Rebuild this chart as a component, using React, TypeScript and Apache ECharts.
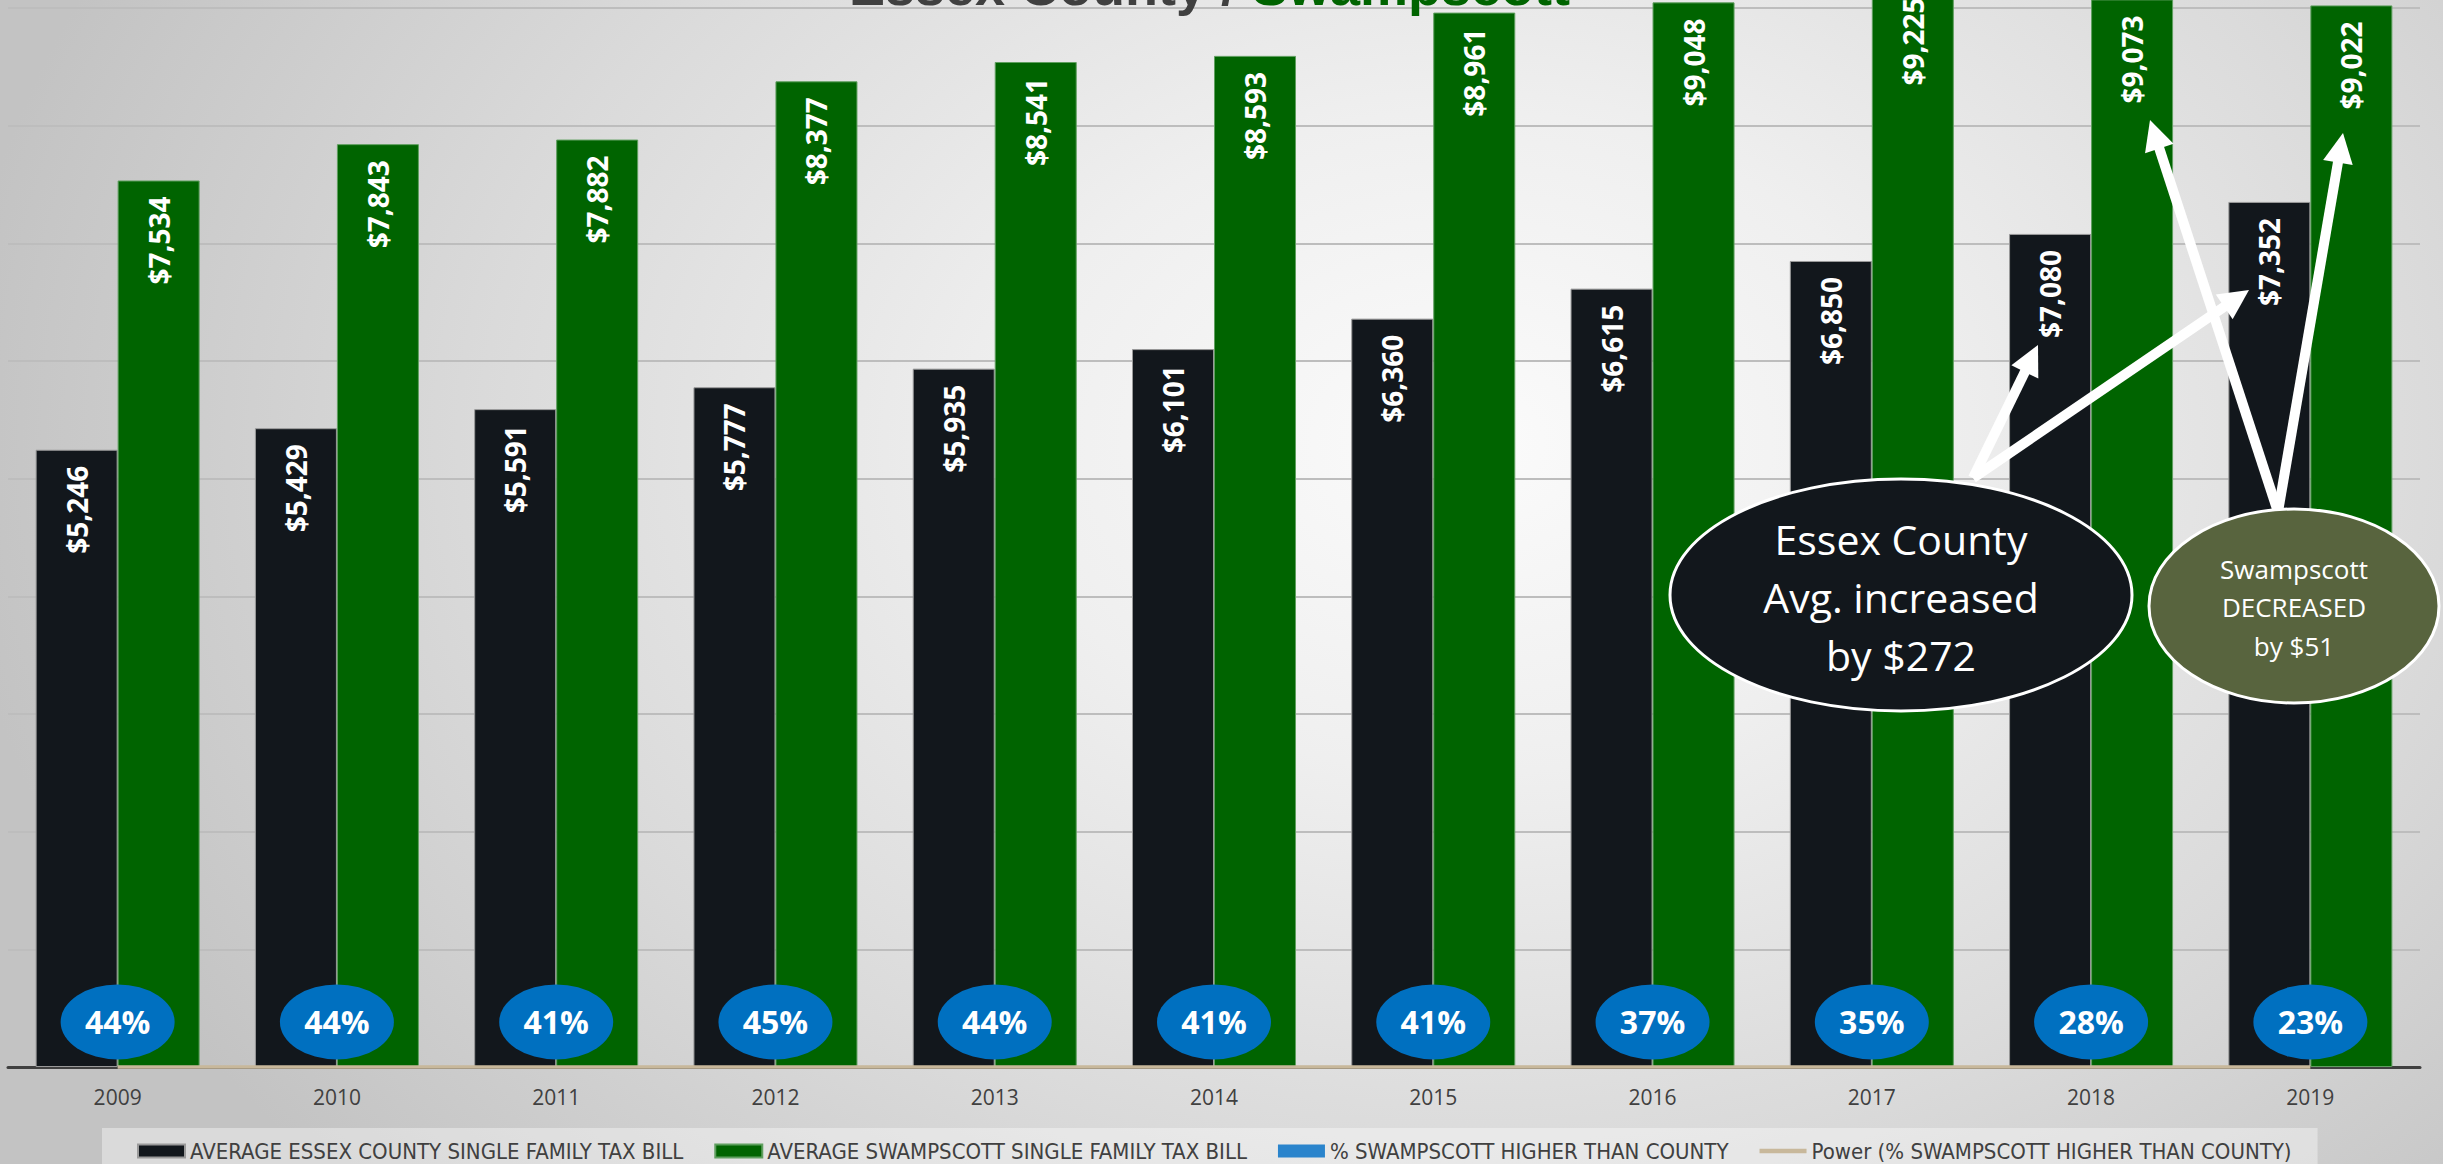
import React, { useEffect, useRef } from "react";
import * as echarts from "echarts";

const years = ["2009", "2010", "2011", "2012", "2013", "2014", "2015", "2016", "2017", "2018", "2019"];
const countyBills = [5246, 5429, 5591, 5777, 5935, 6101, 6360, 6615, 6850, 7080, 7352];
const swampBills = [7534, 7843, 7882, 8377, 8541, 8593, 8961, 9048, 9225, 9073, 9022];
const pctHigher = [0.44, 0.44, 0.41, 0.45, 0.44, 0.41, 0.41, 0.37, 0.35, 0.28, 0.23];
const powerTrend = [0.47, 0.45, 0.43, 0.41, 0.4, 0.38, 0.36, 0.35, 0.33, 0.32, 0.3];

const S1 = "AVERAGE ESSEX COUNTY SINGLE FAMILY TAX BILL";
const S2 = "AVERAGE SWAMPSCOTT SINGLE FAMILY TAX BILL";
const S3 = "% SWAMPSCOTT HIGHER THAN COUNTY";
const S4 = "Power (% SWAMPSCOTT HIGHER THAN COUNTY)";

const BLACK = "#12171C";
const GREEN = "#006400";
const BLUE = "#0070C0";
const OLIVE = "#58643E";
const TAN = "#C8B89B";
const FONT = "'Open Sans', sans-serif";
const NARROW = "'Liberation Sans Narrow', 'DejaVu Sans Condensed', sans-serif";

function arrow(x1: number, y1: number, x2: number, y2: number) {
  const dx = x2 - x1;
  const dy = y2 - y1;
  const len = Math.hypot(dx, dy);
  const ux = dx / len;
  const uy = dy / len;
  const headLen = 30;
  const headW = 15;
  const bx = x2 - ux * headLen;
  const by = y2 - uy * headLen;
  return [
    {
      type: "line",
      z: 50,
      shape: { x1, y1, x2: bx + ux * 3, y2: by + uy * 3 },
      style: { stroke: "#ffffff", lineWidth: 10 },
    },
    {
      type: "polygon",
      z: 50,
      shape: {
        points: [
          [x2, y2],
          [bx - uy * headW, by + ux * headW],
          [bx + uy * headW, by - ux * headW],
        ],
      },
      style: { fill: "#ffffff" },
    },
  ];
}

const moneyLabel = {
  show: true,
  position: "insideTop",
  rotate: 90,
  align: "right",
  verticalAlign: "middle",
  distance: 16,
  color: "#ffffff",
  fontFamily: FONT,
  fontWeight: "bold",
  fontSize: 28,
  formatter: (p: any) => "$" + Number(p.value).toLocaleString("en-US"),
};

export default function App() {
  const ref = useRef<HTMLDivElement>(null);

  useEffect(() => {
    if (!ref.current) return;
    const chart = echarts.init(ref.current, null, { renderer: "svg" });
    const option: any = {
      animation: false,
      backgroundColor: "transparent",
      grid: { left: 8, right: 23, top: 8, bottom: 97, containLabel: false },
      xAxis: {
        type: "category",
        data: years,
        axisLine: { show: true, lineStyle: { color: "#404040", width: 3 } },
        axisTick: { show: false },
        axisLabel: { color: "#404040", fontFamily: FONT, fontSize: 21, margin: 19 },
      },
      yAxis: {
        type: "value",
        min: 0,
        max: 9000,
        interval: 1000,
        axisLabel: { show: false },
        axisLine: { show: false },
        axisTick: { show: false },
        splitLine: { show: true, lineStyle: { color: "#BDBDBD", width: 2 } },
      },
      legend: {
        left: 102,
        top: 1128,
        padding: [12, 26, 14, 35],
        backgroundColor: "rgba(255,255,255,0.38)",
        itemWidth: 47,
        itemHeight: 13,
        itemGap: 31,
        textStyle: { color: "#404040", fontFamily: NARROW, fontSize: 22 },
        data: [
          { name: S1, icon: "rect" },
          { name: S2, icon: "rect" },
          { name: S3, icon: "rect", itemStyle: { color: "#2A84CC", borderWidth: 0 } },
          { name: S4, icon: "path://M0,0L10,0L10,1L0,1Z", itemStyle: { color: TAN } },
        ],
      },
      series: [
        {
          name: S1,
          type: "bar",
          data: countyBills,
          barWidth: 82,
          barGap: "0%",
          clip: false,
          itemStyle: { color: BLACK, borderColor: "#9a9a9a", borderWidth: 1 },
          label: moneyLabel,
        },
        {
          name: S2,
          type: "bar",
          data: swampBills,
          barWidth: 82,
          barGap: "0%",
          clip: false,
          itemStyle: { color: GREEN, borderColor: "#5f9f5f", borderWidth: 1 },
          label: moneyLabel,
        },
        {
          name: S4,
          type: "line",
          data: powerTrend,
          symbol: "none",
          clip: false,
          z: 4,
          lineStyle: { color: TAN, width: 3.5 },
          itemStyle: { color: TAN },
        },
        {
          name: S3,
          type: "scatter",
          data: pctHigher,
          z: 5,
          symbol: "path://M0,1A1,1 0 1,1 2,1A1,1 0 1,1 0,1Z",
          symbolKeepAspect: false,
          symbolSize: [114, 75],
          symbolOffset: [0, -45],
          itemStyle: { color: BLUE, opacity: 1 },
          label: {
            show: true,
            position: "inside",
            color: "#ffffff",
            fontFamily: FONT,
            fontWeight: "bold",
            fontSize: 32,
            formatter: (p: any) => Math.round(Number(p.value) * 100) + "%",
          },
        },
      ],
      graphic: [
        {
          type: "text",
          z: 1,
          x: 1236,
          y: -14,
          style: {
            text: "Essex County /",
            fill: "#404040",
            font: "bold 54px 'Liberation Sans', Arial, sans-serif",
            align: "right",
            verticalAlign: "middle",
          },
        },
        {
          type: "text",
          z: 1,
          x: 1252,
          y: -14,
          style: {
            text: "Swampscott",
            fill: GREEN,
            font: "bold 54px 'Liberation Sans', Arial, sans-serif",
            align: "left",
            verticalAlign: "middle",
          },
        },
        ...arrow(1973, 478, 2038, 345),
        ...arrow(1973, 478, 2249, 290),
        ...arrow(2278, 512, 2150, 120),
        ...arrow(2278, 512, 2343, 133),
        {
          type: "ellipse",
          z: 60,
          shape: { cx: 1901, cy: 595, rx: 231, ry: 116 },
          style: { fill: BLACK, stroke: "#ffffff", lineWidth: 3 },
        },
        {
          type: "text",
          z: 61,
          x: 1901,
          y: 597,
          style: {
            text: "Essex County\nAvg. increased\nby $272",
            fill: "#ffffff",
            fontFamily: FONT,
            fontSize: 41,
            lineHeight: 58,
            align: "center",
            verticalAlign: "middle",
          },
        },
        {
          type: "ellipse",
          z: 60,
          shape: { cx: 2294, cy: 606, rx: 145, ry: 97 },
          style: { fill: OLIVE, stroke: "#ffffff", lineWidth: 3 },
        },
        {
          type: "text",
          z: 61,
          x: 2294,
          y: 607,
          style: {
            text: "Swampscott\nDECREASED\nby $51",
            fill: "#ffffff",
            fontFamily: FONT,
            fontSize: 26,
            lineHeight: 38.5,
            align: "center",
            verticalAlign: "middle",
          },
        },
      ],
    };
    chart.setOption(option);
    return () => chart.dispose();
  }, []);

  return (
    <div
      style={{
        position: "absolute",
        left: 0,
        top: 0,
        width: 2443,
        height: 1164,
        overflow: "hidden",
        background:
          "radial-gradient(ellipse 62% 95% at 60% 38%, #fbfbfb 0%, #efefef 30%, #dadada 65%, #c3c3c3 100%)",
      }}
    >
      <div ref={ref} style={{ width: 2443, height: 1164 }} />
    </div>
  );
}
